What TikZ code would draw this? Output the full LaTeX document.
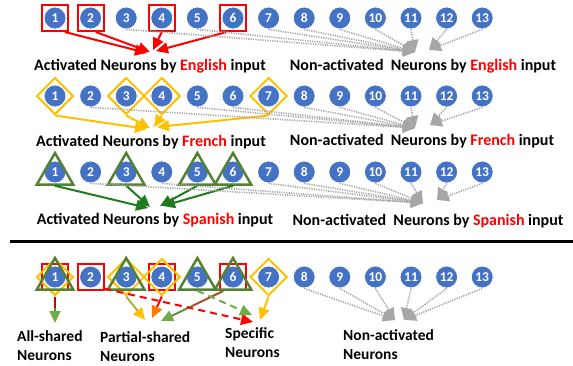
\documentclass[tikz,border=0pt]{standalone}
\usepackage{fontspec}
\setmainfont{Carlito}
\usetikzlibrary{arrows.meta,shapes.geometric}
\definecolor{nblue}{HTML}{4472C4}
\definecolor{gold}{HTML}{FFC000}
\definecolor{tgreen}{HTML}{548235}
\definecolor{agreen}{HTML}{1E7B1E}
\definecolor{lgreen}{HTML}{70AD47}
\definecolor{ngrey}{HTML}{A6A6A6}
\definecolor{orng}{HTML}{FF7A00}
\definecolor{olive}{HTML}{B8A83A}
\definecolor{brwn}{HTML}{A0522D}
\tikzset{
  neuron/.style={circle, fill=nblue, draw=white, line width=0.8pt, minimum size=22pt, inner sep=0pt, text=white, font=\fontsize{13.5}{14}\selectfont\bfseries},
  sqbox/.style={draw=red, line width=2pt, minimum size=26pt, inner sep=0pt},
  dmbox/.style={diamond, draw=gold, line width=2pt, minimum width=37pt, minimum height=37pt, inner sep=0pt},
  trbox/.style={regular polygon, regular polygon sides=3, draw=tgreen, line width=2.5pt, minimum size=42pt, inner sep=0pt},
  head/.style={-{Triangle[length=12pt,width=11pt]}},
  redarr/.style={head, draw=red, line width=2pt},
  goldarr/.style={head, draw=gold, line width=2pt},
  greenarr/.style={head, draw=agreen, line width=2pt},
  greyarr/.style={-{Triangle[length=12pt,width=11pt]}, draw=ngrey, line width=1.6pt, dash pattern=on 1.2pt off 1.2pt},
  lbl/.style={font=\fontsize{16}{20}\selectfont\bfseries, inner sep=0pt},
  blbl/.style={font=\fontsize{15.5}{19.5}\selectfont\bfseries, inner sep=0pt, align=left, anchor=north west},
}
\begin{document}
\begin{tikzpicture}[x=1pt,y=-1pt]
\useasboundingbox (0,0) rectangle (573,365);
% neurons
\foreach \r/\y in {a/18,b/96,c/172,d/277}{
  \foreach \i in {1,...,13}{
    \node[neuron] (\r\i) at ({55+(\i-1)*35.6},\y) {\i};
  }
}
% ---------- Row 1: English ----------
\foreach \i in {1,2,4,6}{ \node[sqbox] (aS\i) at (a\i) {}; }
\coordinate (aR1) at (147,53);
\coordinate (aR2) at (150,52);
\coordinate (aR4) at (153,50);
\coordinate (aR6) at (156,51);
\coordinate (aG1) at (415,52);
\coordinate (aG2) at (429,50);
\draw[redarr] (aS1.-55) -- (aR1);
\draw[redarr] (aS2.-70) -- (aR2);
\draw[redarr] (aS4.south) -- (aR4);
\draw[redarr] (aS6.-115) -- (aR6);
\foreach \i in {3,5,7,8,9,10,11}{ \draw[greyarr] (a\i.south) -- (aG1); }
\foreach \i in {12,13}{ \draw[greyarr] (a\i.south) -- (aG2); }
\node[lbl] (aL) at (150,66) {Activated Neurons by \textcolor{red}{English} input};
\node[lbl] (aN) at (423,66) {Non-activated~ Neurons by \textcolor{red}{English} input};
% ---------- Row 2: French ----------
\foreach \i in {1,3,4,7}{ \node[dmbox] (bD\i) at (b\i) {}; }
\coordinate (bY1) at (147,129);
\coordinate (bY3) at (150,128);
\coordinate (bY4) at (154,127);
\coordinate (bY7) at (157,127);
\coordinate (bG1) at (415,128);
\coordinate (bG2) at (430,125);
\draw[goldarr] (bD1.south) -- (bY1);
\draw[goldarr] (bD3.south) -- (bY3);
\draw[goldarr] (bD4.south) -- (bY4);
\draw[goldarr] (bD7.south) -- (bY7);
\foreach \i in {2,5,6,8,9,10,11}{ \draw[greyarr] (b\i.south) -- (bG1); }
\foreach \i in {12,13}{ \draw[greyarr] (b\i.south) -- (bG2); }
\node[lbl] (bL) at (151,142) {Activated Neurons by \textcolor{red}{French} input};
\node[lbl] (bN) at (422,141) {Non-activated~ Neurons by \textcolor{red}{French} input};
% ---------- Row 3: Spanish ----------
\foreach \i in {1,3,5,6}{ \node[trbox] (cT\i) at ([yshift=-2pt]c\i) {}; }
\coordinate (cA1) at (148,208);
\coordinate (cA3) at (150,207);
\coordinate (cA5) at (160,206);
\coordinate (cA6) at (163,206);
\coordinate (cN1) at (423,203);
\coordinate (cN2) at (437,200);
\draw[greenarr] (cT1.south) -- (cA1);
\draw[greenarr] (cT3.south) -- (cA3);
\draw[greenarr] (cT5.south) -- (cA5);
\draw[greenarr] (cT6.south) -- (cA6);
\foreach \i in {2,4,7,8,9,10,11}{ \draw[greyarr] (c\i.south) -- (cN1); }
\foreach \i in {12,13}{ \draw[greyarr] (c\i.south) -- (cN2); }
\node[lbl] (cL) at (155,220) {Activated Neurons by \textcolor{red}{Spanish} input};
\node[lbl] (cN) at (428,221) {Non-activated~ Neurons by \textcolor{red}{Spanish} input};
% separator
\draw[line width=3pt] (10,241) -- (573,241);
% ---------- Row 4: summary ----------
\foreach \i in {1,2,4,6}{ \node[sqbox] (dS\i) at (d\i) {}; }
\foreach \i in {1,3,4,7}{ \node[dmbox] (dD\i) at (d\i) {}; }
\foreach \i in {1,3,5,6}{ \node[trbox] (dT\i) at ([yshift=-2pt]d\i) {}; }
% all-shared
\coordinate (t1) at (55,323);
\path (dD1.south) -- coordinate[pos=0.45] (m1) (t1);
\draw[red!80!black, line width=2pt] (dD1.south) -- (m1);
\draw[lgreen!80!black, line width=2pt, -{Triangle[length=12pt,width=11pt,color=lgreen]}] (m1) -- (t1);
% partial-shared
\coordinate (t3) at (145,320);
\coordinate (t4) at (152,318);
\coordinate (t6) at (161,321);
\draw[olive, line width=2pt, -{Triangle[length=12pt,width=11pt,color=gold]}] (dD3.south) -- (t3);
\path (dD4.south) -- coordinate[pos=0.5] (m4) (t4);
\draw[red, line width=2pt] (dD4.south) -- (m4);
\draw[orng, line width=2pt, -{Triangle[length=12pt,width=11pt,color=orng]}] (m4) -- (t4);
\path (dS6.-125) -- coordinate[pos=0.5] (m6) (t6);
\draw[brwn, line width=2pt] (dS6.-125) -- (m6);
\draw[lgreen!85!black, line width=2pt, -{Triangle[length=12pt,width=11pt,color=lgreen]}] (m6) -- (t6);
% specific
\coordinate (t2) at (253,322);
\coordinate (t5) at (252,315);
\coordinate (t7) at (260,320);
\draw[red, line width=2pt, dash pattern=on 7pt off 5pt, -{Triangle[length=12pt,width=11pt]}] (dS2.-40) -- (t2);
\draw[lgreen, line width=2pt, dash pattern=on 7pt off 5pt, -{Triangle[length=12pt,width=11pt]}] (dT5.south) -- (t5);
\draw[goldarr] (dD7.south) -- (t7);
% non-activated
\coordinate (dG1) at (395,320);
\coordinate (dG2) at (404,320);
\foreach \i in {8,9,10}{ \draw[greyarr] (d\i.south) -- (dG1); }
\foreach \i in {11,12,13}{ \draw[greyarr] (d\i.south) -- (dG2); }
% labels
\node[blbl] (l1) at (17,330) {All-shared\\Neurons};
\node[blbl] (l2) at (100,331) {Partial-shared\\Neurons};
\node[blbl] (l3) at (225,327) {Specific\\Neurons};
\node[blbl] (l4) at (343,329) {Non-activated\\Neurons};
\end{tikzpicture}
\end{document}
